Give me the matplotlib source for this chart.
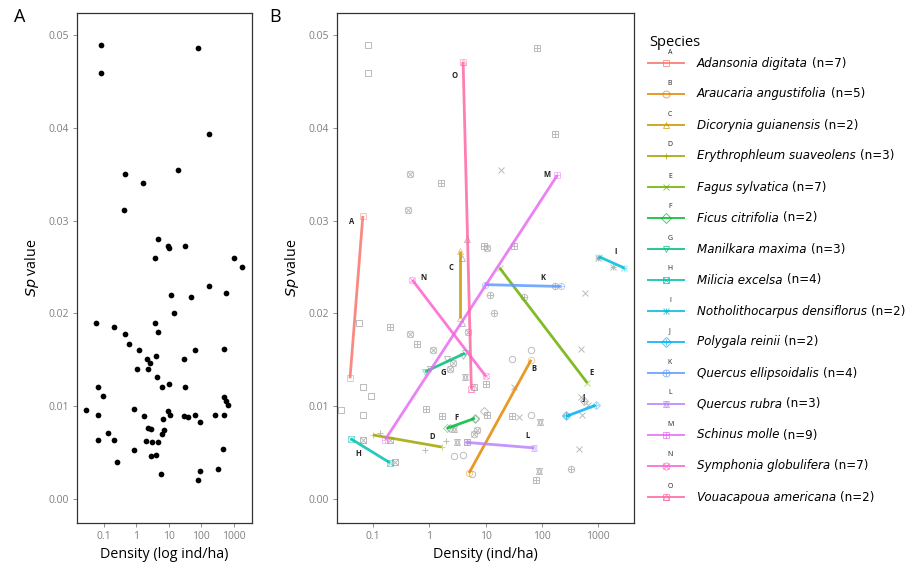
import matplotlib.pyplot as plt
from matplotlib.lines import Line2D
import numpy as np

plt.rcParams['font.family'] = ['Open Sans', 'DejaVu Sans']

# points (density in ind/ha, Sp value), with the species group used for the marker shape
density = [0.08, 0.08, 82, 170, 0.45, 1.6, 19, 0.42, 4.6, 9.5, 10.5, 32, 3.8, 1000, 1860,
           170, 12, 48, 590, 14, 0.056, 0.2, 0.46, 0.6, 1.18, 3.8, 4.8, 2.1, 2.6, 4.0,
           2.3, 1.05, 4.3, 6.3, 10, 30, 65, 32, 500, 0.067, 0.093, 0.027, 0.067, 0.87,
           1.66, 9.5, 10.6, 6.6, 30, 40, 65, 92, 265, 520, 490, 570, 660, 0.135, 0.2,
           0.067, 0.25, 0.83, 2.3, 2.8, 7, 6.3, 1.95, 3.1, 4.6, 2.8, 4.0, 5.8, 78, 90,
           330, 460]
sp_value = [0.0489, 0.0459, 0.0486, 0.0393, 0.035, 0.0341, 0.0354, 0.0311, 0.028, 0.0273,
            0.027, 0.0273, 0.026, 0.026, 0.025, 0.023, 0.022, 0.0218, 0.0222, 0.020,
            0.019, 0.0185, 0.0178, 0.0167, 0.016, 0.019, 0.018, 0.0151, 0.0147, 0.0154,
            0.014, 0.014, 0.0131, 0.0121, 0.0124, 0.0151, 0.016, 0.0121, 0.0162, 0.0121,
            0.0111, 0.0096, 0.009, 0.0097, 0.0089, 0.0095, 0.009, 0.0086, 0.0089, 0.0088,
            0.009, 0.0083, 0.009, 0.009, 0.011, 0.0106, 0.0101, 0.0071, 0.0064, 0.0064,
            0.004, 0.0053, 0.0077, 0.0075, 0.0074, 0.007, 0.0062, 0.0061, 0.0061, 0.0046,
            0.0047, 0.0027, 0.002, 0.003, 0.0032, 0.0054]
point_species = ['A', 'A', 'M', 'M', 'N', 'M', 'E', 'N', 'C', 'M', 'N', 'M', 'C', 'I', 'I',
                 'K', 'K', 'K', 'E', 'K', 'A', 'M', 'N', 'M', 'N', 'C', 'N', 'G', 'N', 'G',
                 'N', 'G', 'L', 'O', 'M', 'B', 'B', 'E', 'E', 'A', 'A', 'A', 'A', 'M',
                 'M', 'F', 'M', 'F', 'M', 'E', 'B', 'L', 'J', 'E', 'E', 'J', 'E', 'D', 'H',
                 'H', 'H', 'D', 'F', 'L', 'N', 'N', 'D', 'L', 'M', 'B', 'B', 'B', 'M', 'L',
                 'K', 'E']

species = list('ABCDEFGHIJKLMNO')
species_names = ['Adansonia digitata', 'Araucaria angustifolia', 'Dicorynia guianensis',
                 'Erythrophleum suaveolens', 'Fagus sylvatica', 'Ficus citrifolia',
                 'Manilkara maxima', 'Milicia excelsa', 'Notholithocarpus densiflorus',
                 'Polygala reinii', 'Quercus ellipsoidalis', 'Quercus rubra',
                 'Schinus molle', 'Symphonia globulifera', 'Vouacapoua americana']
species_n = [7, 5, 2, 3, 7, 2, 3, 4, 2, 2, 4, 3, 9, 7, 2]

# per-species trend lines (start and end)
line_x0 = [0.039, 5.1, 3.5, 0.1, 17.8, 2.04, 0.84, 0.04, 1050, 270, 9.6, 4.6, 0.165, 0.5, 4.0]
line_y0 = [0.0130, 0.0028, 0.0195, 0.0069, 0.0249, 0.0076, 0.0137, 0.0065, 0.0261, 0.0089,
           0.0231, 0.0061, 0.0064, 0.0236, 0.0471]
line_x1 = [0.066, 65, 3.5, 1.66, 646, 6.5, 4.3, 0.2, 2900, 910, 219, 74, 190, 10.2, 5.6]
line_y1 = [0.0305, 0.0150, 0.0267, 0.0056, 0.0125, 0.0087, 0.0157, 0.0039, 0.0249, 0.0101,
           0.0229, 0.0055, 0.0349, 0.0132, 0.0119]

colors = ['#F8766D', '#E58700', '#C99800', '#A3A500', '#6BB100', '#00BA38', '#00BF7D',
          '#00C0AF', '#00BCD8', '#00B0F6', '#619CFF', '#B983FF', '#E76BF3', '#FD61D1',
          '#FF67A4']
# shapes 0-14 as in R, built from overlaid matplotlib markers
markers = {'A': ['s'], 'B': ['o'], 'C': ['^'], 'D': ['+'], 'E': ['x'], 'F': ['D'],
           'G': ['v'], 'H': ['s', 'x'], 'I': ['+', 'x'], 'J': ['D', '+'], 'K': ['o', '+'],
           'L': ['^', 'v'], 'M': ['s', '+'], 'N': ['o', 'x'], 'O': ['s', '^']}
# where each letter sits: anchor on the line and offset in pixels
label_place = {'A': ('end', -11, -6), 'B': ('end', 3, -9), 'C': ('end', -9, -16),
               'D': ('end', -9, 11), 'E': ('end', 4, 10), 'F': ('mid', -4, 6),
               'G': ('mid', -2, -10), 'H': ('start', 8, -15), 'I': ('mid', 4, 11),
               'J': ('end', -12, 8), 'K': ('end', -18, 9), 'L': ('end', -7, 12),
               'M': ('end', -11, 1), 'N': ('start', 11, 2), 'O': ('start', -9, -14)}

W, H = 924, 569
fig = plt.figure(figsize=(W / 100, H / 100), dpi=100)


def box(l, t, r, b):
    return [l / W, 1 - b / H, (r - l) / W, (b - t) / H]


def shape(target, x, y, g, col, alpha, ms=4.6, **kw):
    for m in markers[g]:
        size = ms * 1.05 if m in ('+', 'x') else ms
        if m == 'D':
            size = ms * 0.8
        target(x, y, marker=m, ms=size, mfc='none', mec=col, mew=0.7,
               alpha=alpha, ls='none', **kw)


def style_axes(ax, xlim):
    ax.set_xscale('log')
    ax.set_xlim(*xlim)
    ax.set_ylim(-0.00259, 0.05237)
    ax.set_xticks([0.1, 1, 10, 100, 1000])
    ax.set_xticklabels(['0.1', '1', '10', '100', '1000'])
    ax.minorticks_off()
    ax.set_yticks([0, 0.01, 0.02, 0.03, 0.04, 0.05])
    ax.set_yticklabels(['0.00', '0.01', '0.02', '0.03', '0.04', '0.05'])
    ax.tick_params(labelsize=7.5, colors='#808080', length=3, width=0.6, pad=3)
    for s in ax.spines.values():
        s.set_color('#333333')
        s.set_linewidth(0.9)


axA = fig.add_axes(box(77, 13, 252, 523))
axA.scatter(density, sp_value, s=17, color='black', zorder=3, linewidths=0)
style_axes(axA, (10 ** -1.833, 10 ** 3.568))
axA.set_xlabel('Density (log ind/ha)', fontsize=10.3, labelpad=3)
axA.set_ylabel('$\\it{Sp}$ value', fontsize=10.3, labelpad=5)

axB = fig.add_axes(box(337, 13, 634, 523))
for x, y, g in zip(density, sp_value, point_species):
    shape(axB.plot, x, y, g, '#b0b0b0', 0.85, zorder=2)
for i, g in enumerate(species):
    xs = [line_x0[i], line_x1[i]]
    ys = [line_y0[i], line_y1[i]]
    axB.plot(xs, ys, color=colors[i], lw=2.0, alpha=0.85, zorder=3, solid_capstyle='butt')
    shape(axB.plot, xs, ys, g, colors[i], 0.45, zorder=3)
    where, dx, dy = label_place[g]
    if where == 'start':
        ax_, ay_ = line_x0[i], line_y0[i]
    elif where == 'end':
        ax_, ay_ = line_x1[i], line_y1[i]
    else:
        ax_ = np.sqrt(line_x0[i] * line_x1[i])
        ay_ = (line_y0[i] + line_y1[i]) / 2
    axB.annotate(g, (ax_, ay_), xytext=(dx, dy), textcoords='offset pixels',
                 fontsize=5.5, fontweight='bold', color='#222222',
                 ha='center', va='center', zorder=4)
style_axes(axB, (10 ** -1.64, 10 ** 3.64))
axB.set_xlabel('Density (ind/ha)', fontsize=10.3, labelpad=3)
axB.set_ylabel('$\\it{Sp}$ value', fontsize=10.3, labelpad=5)

fig.text(14 / W, 1 - 17 / H, 'A', fontsize=13, va='center', ha='left')
fig.text(269 / W, 1 - 17 / H, 'B', fontsize=13, va='center', ha='left')

# legend drawn by hand
fig.text(649 / W, 1 - 42 / H, 'Species', fontsize=10.5, va='center', ha='left')
row0, step = 63, 31.0
renderer = fig.canvas.get_renderer()
for i, g in enumerate(species):
    yy = 1 - (row0 + i * step) / H
    fig.add_artist(Line2D([648 / W, 684 / W], [yy, yy], color=colors[i], lw=1.4, alpha=0.85))
    for m in markers[g]:
        fig.add_artist(Line2D([666 / W], [yy], marker=m, ms=5, mfc='none',
                              mec=colors[i], mew=0.7, alpha=0.7, ls='none'))
    fig.text(670 / W, yy + 11 / H, g, fontsize=5, ha='center', va='center', color='#222222')
    t = fig.text(697 / W, yy, species_names[i], fontsize=8.6, style='italic',
                 family='DejaVu Sans', va='center', ha='left')
    bb = t.get_window_extent(renderer=renderer)
    fig.text(bb.x1 / W + 4 / W, yy, f'(n={species_n[i]})', fontsize=8.6,
             family='DejaVu Sans', va='center', ha='left')

fig.savefig('out.png', dpi=100)
